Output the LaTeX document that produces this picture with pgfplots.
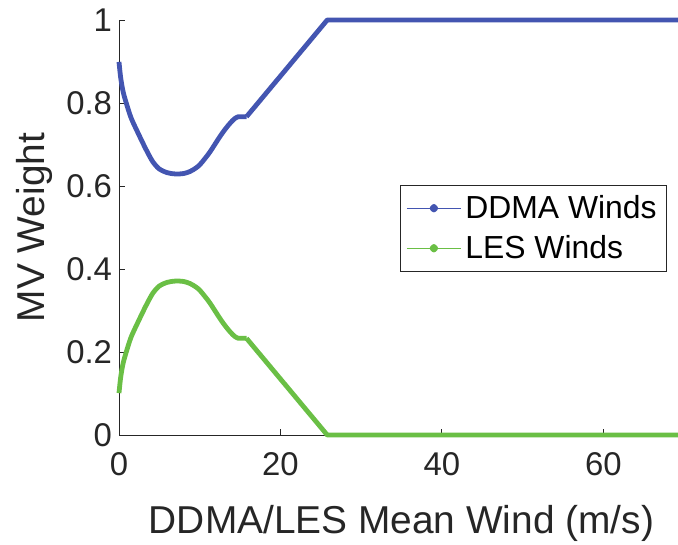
\documentclass[border=0pt]{standalone}
\usepackage{pgfplots}
\pgfplotsset{compat=1.18}
\usepackage{fontspec}
\setmainfont{Liberation Sans}
\usetikzlibrary{calc}
\definecolor{ddma}{HTML}{4355B1}
\definecolor{les}{HTML}{6ABF45}
\definecolor{axgray}{HTML}{262626}

% DDMA weight, curved part; LES weight is one minus this
\pgfplotstableread{
x y
0 0.899
0.2 0.862
0.5 0.828
0.9 0.800
1.5 0.764
2.4 0.726
3.35 0.688
4.2 0.658
5.0 0.641
6.0 0.632
7.0 0.629
8.0 0.630
8.8 0.635
9.5 0.643
10.0 0.651
10.6 0.665
11.3 0.683
12.5 0.719
13.2 0.738
13.75 0.751
14.3 0.762
14.8 0.767
15.3 0.767
15.8 0.767
}\ddmacurve
\pgfplotstableread{
x y
15.8 0.767
25.8 1.0
70 1.0
}\ddmaline
\pgfplotstableread{
x y
0 0.101
0.2 0.138
0.5 0.172
0.9 0.200
1.5 0.236
2.4 0.274
3.35 0.312
4.2 0.342
5.0 0.359
6.0 0.368
7.0 0.371
8.0 0.370
8.8 0.365
9.5 0.357
10.0 0.349
10.6 0.335
11.3 0.317
12.5 0.281
13.2 0.262
13.75 0.249
14.3 0.238
14.8 0.233
15.3 0.233
15.8 0.233
}\lescurve
\pgfplotstableread{
x y
15.8 0.233
25.8 0.0
70 0.0
}\lesline

\begin{document}
\begin{tikzpicture}
\begin{axis}[
  scale only axis, width=282.5bp, height=207.5bp,
  xmin=0, xmax=70, ymin=0, ymax=1,
  axis lines=left, axis line style={-, axgray, line width=0.4bp},
  tick align=inside, major tick length=3bp,
  tick style={axgray, line width=0.4bp},
  xtick={0,20,40,60}, ytick={0,0.2,...,1},
  /pgf/number format/assume math mode=true,
  tick label style={font=\fontsize{16.5}{18}\selectfont, text=axgray},
  xticklabel style={yshift=-5bp},
  label style={font=\fontsize{19.5}{22}\selectfont, text=axgray},
  xlabel={DDMA/LES Mean Wind (m/s)},
  xlabel style={yshift=-8bp},
  ylabel={MV Weight},
  legend style={font=\fontsize{16}{18}\selectfont, draw=axgray, line width=0.4bp,
    at={(0.97,0.603)}, anchor=north east, row sep=3bp, inner sep=3bp},
  legend cell align=left,
  legend image code/.code={\draw[line width=0.5bp] (0bp,0bp) -- (27bp,0bp);
    \fill (13.5bp,0bp) circle (0.9bp);},
  every axis plot/.append style={line width=2.4bp, line join=round},
  clip=false,
]
\addplot[ddma, smooth, tension=0.5] table {\ddmacurve};
\addlegendentry{DDMA Winds}
\addplot[les, smooth, tension=0.5] table {\lescurve};
\addlegendentry{LES Winds}
\addplot[ddma, forget plot] table {\ddmaline};
\addplot[les, forget plot] table {\lesline};
\end{axis}
\pgfresetboundingbox
\path ($(current axis.south west)+(-59.5bp,-54.5bp)$) rectangle ($(current axis.north east)+(-3bp,10bp)$);
\end{tikzpicture}
\end{document}
